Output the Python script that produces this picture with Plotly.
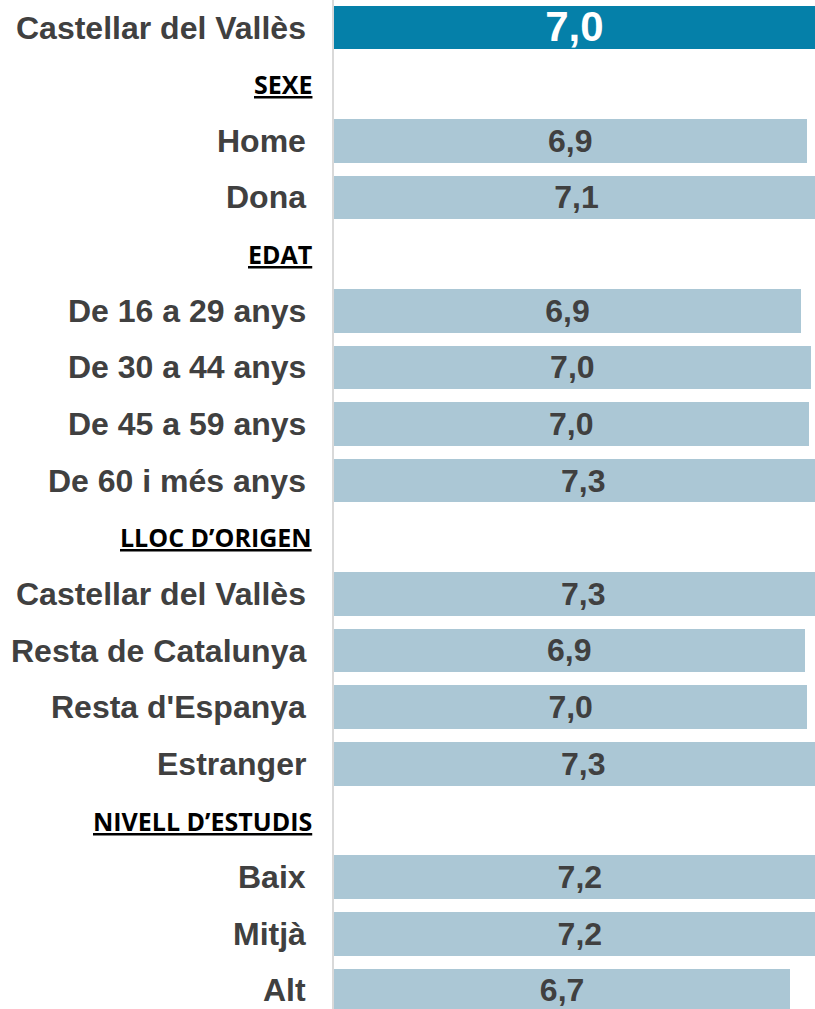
import numpy as np
import plotly.graph_objects as go

# rows from top to bottom; None marks a section header row
categories = ["Castellar del Vallès", "SEXE", "Home", "Dona", "EDAT",
              "De 16 a 29 anys", "De 30 a 44 anys", "De 45 a 59 anys", "De 60 i més anys",
              "LLOC D’ORIGEN", "Castellar del Vallès", "Resta de Catalunya", "Resta d'Espanya",
              "Estranger", "NIVELL D’ESTUDIS", "Baix", "Mitjà", "Alt"]
values = [7.04, None, 6.92, 7.1, None,
          6.84, 6.98, 6.95, 7.3,
          None, 7.3, 6.89, 6.93,
          7.3, None, 7.2, 7.2, 6.68]
value_labels = ["7,0", "", "6,9", "7,1", "",
                "6,9", "7,0", "7,0", "7,3",
                "", "7,3", "6,9", "7,0",
                "7,3", "", "7,2", "7,2", "6,7"]

TOTAL_COLOR = "#0580A9"
GROUP_COLOR = "#ABC7D5"
TEXT_COLOR = "#404040"

rows = np.arange(len(categories))
is_header = np.array([v is None for v in values])
vals = np.array([np.nan if v is None else v for v in values], dtype=float)
bar_colors = [TOTAL_COLOR if i == 0 else GROUP_COLOR for i in rows]

fig = go.Figure()

fig.add_trace(go.Bar(
    x=vals, y=rows, orientation="h",
    marker=dict(color=bar_colors, line=dict(width=0)),
    width=0.77, hoverinfo="skip",
))

# value labels centred in each bar (nudged down a little, like the original)
label_mask = ~is_header
fig.add_trace(go.Scatter(
    x=vals[label_mask] / 2, y=rows[label_mask] + 0.05, mode="text",
    text=[t for t, m in zip(value_labels, label_mask) if m],
    textfont=dict(
        family="Liberation Sans, Arial", weight="bold",
        size=[42 if i == 0 else 32 for i in rows[label_mask]],
        color=["white" if i == 0 else TEXT_COLOR for i in rows[label_mask]],
    ),
    textposition="middle center", hoverinfo="skip", cliponaxis=False,
))

# category labels and section headers
for i, name in enumerate(categories):
    if is_header[i]:
        fig.add_annotation(
            x=0, xref="paper", y=i, yref="y", xanchor="right", yanchor="middle",
            xshift=-20, text="<u>" + name + "</u>", showarrow=False,
            font=dict(family="Open Sans", size=25, weight="bold", color="black"),
        )
    else:
        fig.add_annotation(
            x=0, xref="paper", y=i, yref="y", xanchor="right", yanchor="middle",
            xshift=-26, text=name, showarrow=False,
            font=dict(family="Liberation Sans, Arial", size=32, weight="bold", color=TEXT_COLOR),
        )

fig.update_layout(
    width=815, height=1009,
    margin=dict(l=334, r=0, t=0, b=0),
    paper_bgcolor="white", plot_bgcolor="white",
    showlegend=False, bargap=0,
    xaxis=dict(range=[0, 7.043], showgrid=False, zeroline=False,
               showticklabels=False, showline=False, fixedrange=True),
    yaxis=dict(range=[17.327, -0.486], showgrid=False, zeroline=False,
               showticklabels=False, showline=True, linecolor="#D9D9D9",
               linewidth=2, fixedrange=True),
)

fig.write_html(
    "out.html",
    config={"displayModeBar": False},
    post_script="document.body.style.margin='0';document.body.style.overflow='hidden';",
)
